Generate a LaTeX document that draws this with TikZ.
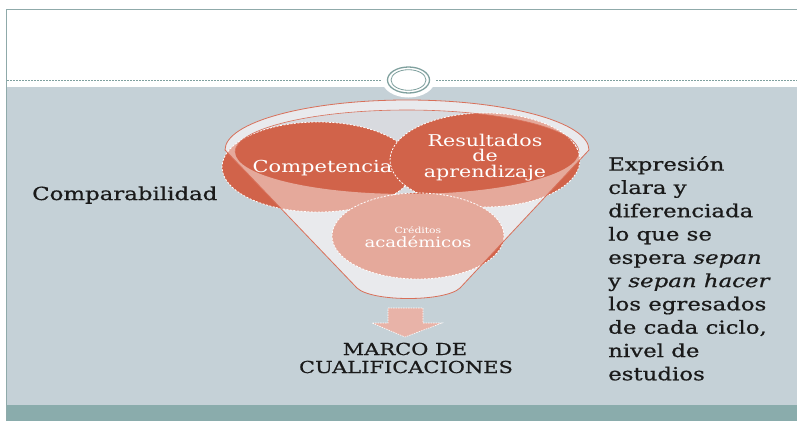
\documentclass[tikz,border=0pt]{standalone}
\usepackage{fontspec}
\setmainfont{DejaVu Serif}[FakeStretch=1.27]
\newfontfamily\heavy{DejaVu Serif}[FakeStretch=1.27, FakeBold=0.7]
\usetikzlibrary{shapes.geometric}
\definecolor{bg}{HTML}{C5D1D7}
\definecolor{band}{HTML}{8AACAC}
\definecolor{frm}{HTML}{8FAAAA}
\definecolor{ring}{HTML}{7FA09E}
\definecolor{dred}{HTML}{D1634A}
\definecolor{rimline}{HTML}{D8705A}
\definecolor{funback}{HTML}{D8DADF}
\definecolor{arrowc}{HTML}{E8B3A8}
\definecolor{txt}{HTML}{1A1A1A}
\tikzset{
  blob/.style={fill=dred, draw=white, dashed, dash pattern=on 2pt off 1.5pt, line width=0.8pt},
  intext/.style={text=white, align=center, inner sep=0pt, anchor=base},
  sidetext/.style={text=txt, inner sep=0pt}
}
\begin{document}
\begin{tikzpicture}[x=1pt,y=-1pt]
\useasboundingbox (0,0) rectangle (797,421);
\fill[white] (0,0) rectangle (797,421);
\fill[bg] (7,87) rectangle (797,405);
\fill[band] (7,405) rectangle (797,421);
\draw[frm, line width=1pt] (6,421) -- (6,9) -- (797,9);
% dashed separator
\coordinate (dl0) at (7,80);
\coordinate (dl1) at (382,80);
\coordinate (dr0) at (436,80);
\coordinate (dr1) at (797,80);
\draw[ring, dashed, dash pattern=on 2pt off 1pt, line width=0.6pt] (dl0) -- (dl1) (dr0) -- (dr1);
% ring ornament
\node[ellipse, fill=white, minimum width=53pt, minimum height=35pt, inner sep=0pt] (orn) at (408.5,80) {};
\draw[ring, line width=1.3pt] (orn.center) ellipse[x radius=21, y radius=13];
\draw[ring, line width=0.8pt] (orn.center) ellipse[x radius=17.5, y radius=10.3];
% funnel back
\fill[funback] (225,150) arc[start angle=180,end angle=360,x radius=182,y radius=50] -- (460,288) .. controls (445,302) and (372,302) .. (357,288) -- cycle;
% circles
\node[blob, ellipse, minimum width=192pt, minimum height=90pt, inner sep=0pt] (comp) at (318,167) {};
\node[blob, ellipse, minimum width=190pt, minimum height=94pt, inner sep=0pt] (res) at (485,160) {};
\node[blob, ellipse, minimum width=172pt, minimum height=86pt, inner sep=0pt] (cred) at (418,236) {};
% funnel overlay
\fill[white, fill opacity=0.45, even odd rule] (225,150) arc[start angle=180,end angle=360,x radius=182,y radius=50] -- (460,288) .. controls (445,302) and (372,302) .. (357,288) -- cycle
  (407,152) ellipse[x radius=172, y radius=42];
\draw[rimline, line width=0.8pt] (225,150) arc[start angle=180,end angle=360,x radius=182,y radius=50] -- (460,288) .. controls (445,302) and (372,302) .. (357,288) -- cycle;
\draw[rimline, line width=0.6pt] (235,152) arc[start angle=180,end angle=360,x radius=172,y radius=42];
% circle texts
\node[intext, font=\fontsize{16.5}{16.5}\selectfont] (tcomp) at (322.5,172) {Competencia};
\node[intext, font=\fontsize{16.2}{16.2}\selectfont] (tres1) at (485,146) {Resultados};
\node[intext, font=\fontsize{16.2}{16.2}\selectfont] (tres2) at (485,161.5) {de};
\node[intext, font=\fontsize{16.2}{16.2}\selectfont] (tres3) at (485,177.5) {aprendizaje};
\node[intext, font=\fontsize{8.5}{8.5}\selectfont] (tcred1) at (418,233) {Créditos};
\node[intext, font=\fontsize{14.2}{14.2}\selectfont] (tcred2) at (418,247) {académicos};
% arrow
\draw[fill=arrowc, draw=white, dashed, dash pattern=on 1.5pt off 1pt, line width=0.6pt] (388,308) -- (423,308) -- (423,323) -- (442,323) -- (405,337) -- (372,323) -- (388,323) -- cycle;
\node[sidetext, anchor=base, font=\heavy\fontsize{16.5}{16.5}\selectfont] (marco1) at (405,355) {MARCO DE};
\node[sidetext, anchor=base, font=\heavy\fontsize{16.5}{16.5}\selectfont] (marco2) at (406,373) {CUALIFICACIONES};
% side texts
\node[sidetext, anchor=base west, font=\heavy\fontsize{18}{18}\selectfont] (compar) at (32,200) {Comparabilidad};
\node[sidetext, anchor=north west, align=left, font=\heavy\fontsize{18}{23.3}\selectfont] (expr) at (608,156) {Expresión\\clara y\\diferenciada\\lo que se\\espera \textit{sepan}\\y \textit{sepan hacer}\\los egresados\\de cada ciclo,\\nivel de\\estudios};
\end{tikzpicture}
\end{document}
